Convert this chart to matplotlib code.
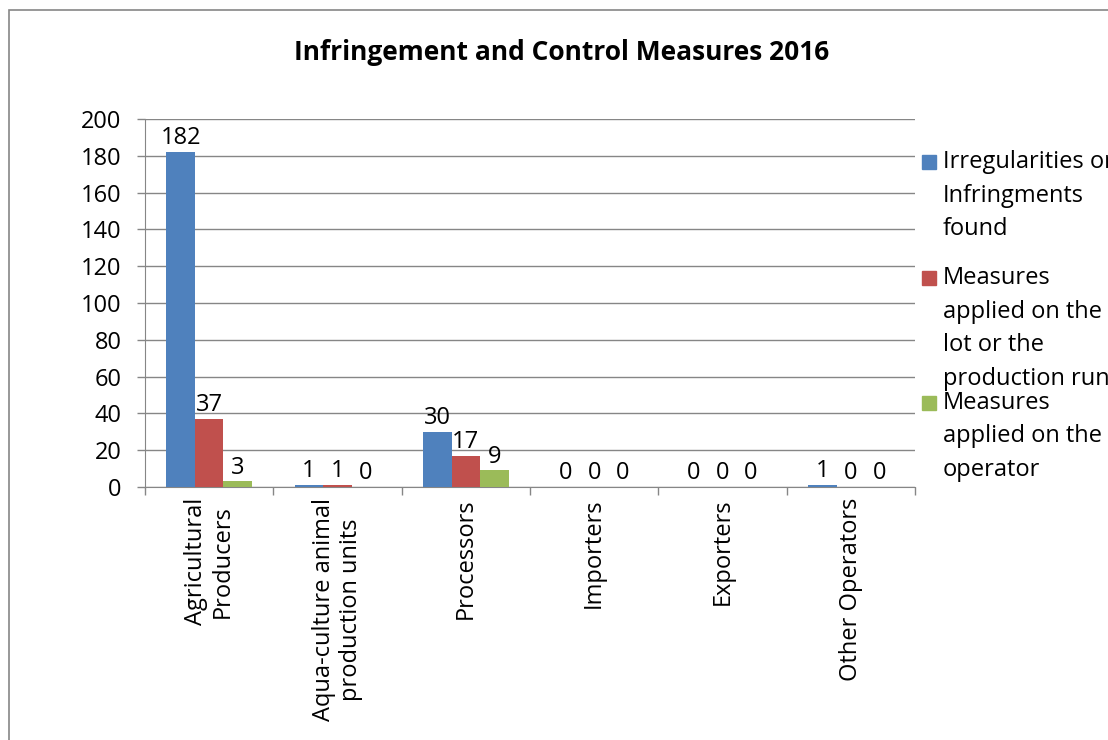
import matplotlib
matplotlib.use("Agg")
import matplotlib.pyplot as plt
import numpy as np
from matplotlib.patches import Rectangle

categories = ["Agricultural\nProducers", "Aqua-culture animal\nproduction units", "Processors",
              "Importers", "Exporters", "Other Operators"]
irregularities = [182, 1, 30, 0, 0, 1]
measures_lot = [37, 1, 17, 0, 0, 0]
measures_operator = [3, 0, 9, 0, 0, 0]

series_names = [
    ["Irregularities or", "Infringments", "found"],
    ["Measures", "applied on the", "lot or the", "production run"],
    ["Measures", "applied on the", "operator"],
]
colors = ["#4F81BD", "#C0504D", "#9BBB59"]

plt.rcParams["font.family"] = ["Open Sans", "DejaVu Sans"]
FS = 17

W, H = 1108, 740
fig = plt.figure(figsize=(W / 100, H / 100), dpi=100)

# outer chart border (cropped at right and bottom)
fig.patches.append(Rectangle((9 / W, -0.1), 1.2, 1 - 10 / H + 0.1, transform=fig.transFigure,
                             fill=False, edgecolor="#868686", linewidth=1.2))

ax = fig.add_axes([145 / W, 1 - 487 / H, 770 / W, (487 - 119) / H])
x = np.arange(len(categories))
bw = 0.222
grey = "#868686"
for i, vals in enumerate([irregularities, measures_lot, measures_operator]):
    pos = x + (i - 1) * bw
    ax.bar(pos, vals, width=bw, color=colors[i], zorder=3)
    for p, v in zip(pos, vals):
        ax.text(p, v + 1.0, str(v), ha="center", va="bottom", fontsize=FS)

ax.set_xlim(-0.5, len(categories) - 0.5)
ax.set_ylim(0, 200)
ax.set_yticks(np.arange(0, 201, 20))
ax.tick_params(axis="y", labelsize=FS, length=5.8, color=grey, width=1, pad=11)
ax.grid(axis="y", color=grey, linewidth=1, zorder=0)
for s in ["top", "right"]:
    ax.spines[s].set_visible(False)
for s in ["left", "bottom"]:
    ax.spines[s].set_color(grey)

ax.set_xticks(np.arange(-0.5, len(categories)), minor=False)
ax.set_xticklabels([])
ax.tick_params(axis="x", length=6, color=grey, width=1)
for xi, lab in zip(x, categories):
    ax.text(xi, -6, lab, rotation=90, ha="center", va="top", fontsize=FS,
            multialignment="center", linespacing=1.15)

fig.text(562 / W, 1 - 53 / H, "Infringement and Control Measures 2016", ha="center", va="center",
         fontsize=19, fontweight="bold")

# legend drawn manually, text runs past the right edge like the source
starts = [162, 278, 403]
for name_lines, c, y0 in zip(series_names, colors, starts):
    fig.patches.append(Rectangle((922 / W, 1 - (y0 + 7) / H), 14 / W, 14 / H,
                                 transform=fig.transFigure, color=c))
    for k, line in enumerate(name_lines):
        fig.text(943 / W, 1 - (y0 + k * 33.5) / H, line, ha="left", va="center", fontsize=FS)

fig.savefig("out.png", dpi=100)
